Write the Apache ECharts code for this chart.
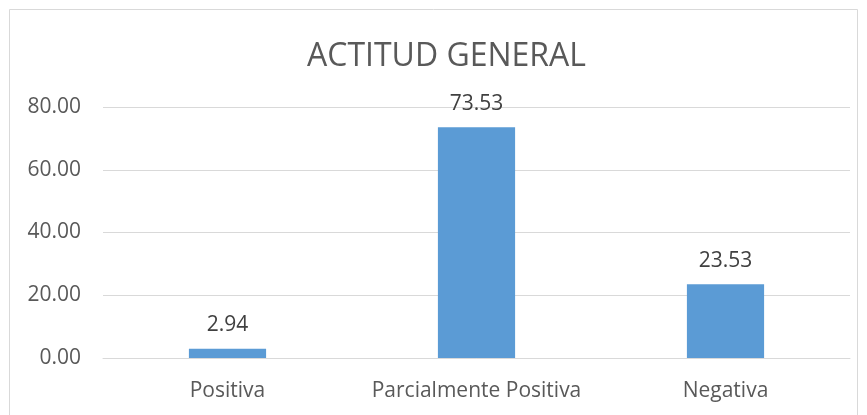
<!DOCTYPE html>
<html>
<head>
<meta charset="utf-8">
<script src="https://cdn.jsdelivr.net/npm/echarts@6/dist/echarts.min.js"></script>
<style>
  html, body { margin: 0; padding: 0; background: #ffffff; }
  #main { width: 867px; height: 415px; }
</style>
</head>
<body>
<div id="main"></div>
<script>
// datos del grafico
var categorias = ['Positiva', 'Parcialmente Positiva', 'Negativa'];
var valores = [2.94, 73.53, 23.53];
var titulo = 'ACTITUD GENERAL';

var chart = echarts.init(document.getElementById('main'), null, { renderer: 'canvas' });
var fuente = 'Open Sans';

var option = {
  backgroundColor: '#ffffff',
  animation: false,
  title: {
    text: titulo,
    left: 302,
    top: 36,
    textStyle: { fontFamily: fuente, fontSize: 32, fontWeight: 'normal', color: '#595959' }
  },
  graphic: [{
    type: 'rect',
    shape: { x: 9.5, y: 9.5, width: 848, height: 420 },
    style: { fill: 'none', stroke: '#d9d9d9', lineWidth: 1 },
    silent: true
  }],
  grid: { left: 103, right: 17, top: 107, bottom: 57 },
  xAxis: {
    type: 'category',
    data: categorias,
    axisLine: { show: true, lineStyle: { color: '#d9d9d9' } },
    axisTick: { show: false },
    axisLabel: { interval: 0, hideOverlap: false, fontFamily: fuente, fontSize: 21, color: '#595959', margin: 23 }
  },
  yAxis: {
    type: 'value',
    min: 0,
    max: 80,
    interval: 20,
    axisLine: { show: false },
    axisTick: { show: false },
    splitLine: { lineStyle: { color: '#d9d9d9', width: 1 } },
    axisLabel: {
      fontFamily: fuente, fontSize: 21, color: '#595959', margin: 22,
      formatter: function (v) { return v.toFixed(2); }
    }
  },
  series: [{
    type: 'bar',
    data: valores,
    barWidth: '31%',
    itemStyle: { color: '#5b9bd5' },
    label: {
      show: true,
      position: 'top',
      distance: 13,
      fontFamily: fuente,
      fontSize: 21,
      color: '#404040',
      formatter: function (p) { return p.value.toFixed(2); }
    }
  }]
};

chart.setOption(option);
</script>
</body>
</html>
